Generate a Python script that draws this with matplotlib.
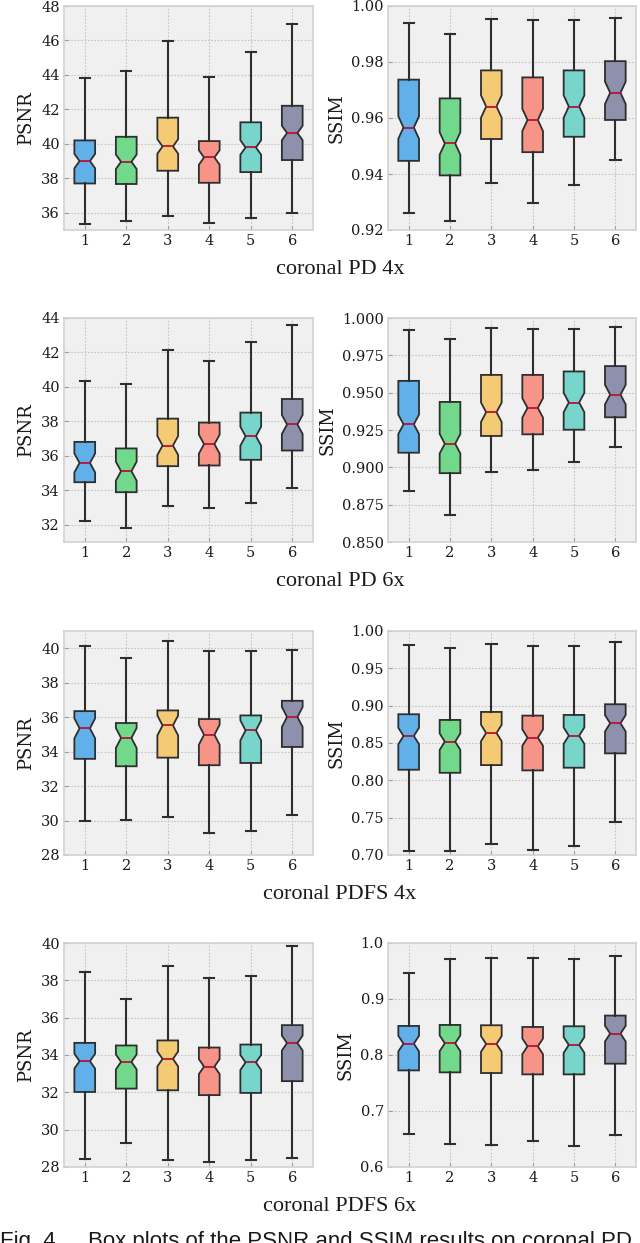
import matplotlib
matplotlib.use("Agg")
import matplotlib.pyplot as plt
from matplotlib.ticker import FormatStrFormatter

# ---------------- data ----------------
methods = ["1", "2", "3", "4", "5", "6"]
colors = ["#62b0ea", "#72d98c", "#f5ca75", "#f79488", "#78d5cc", "#8e91ac"]

# coronal PD 4x  - PSNR
pd4_psnr_lo  = [35.32, 35.52, 35.83, 35.40, 35.69, 35.96]
pd4_psnr_q1  = [37.70, 37.67, 38.44, 37.74, 38.36, 39.06]
pd4_psnr_med = [39.00, 38.96, 39.85, 39.21, 39.79, 40.63]
pd4_psnr_q3  = [40.20, 40.41, 41.52, 40.16, 41.25, 42.21]
pd4_psnr_hi  = [43.84, 44.25, 45.99, 43.86, 45.35, 46.94]
pd4_psnr_notch = 0.42
# coronal PD 4x  - SSIM
pd4_ssim_lo  = [0.9261, 0.9231, 0.9367, 0.9298, 0.9359, 0.9449]
pd4_ssim_q1  = [0.9447, 0.9395, 0.9525, 0.9478, 0.9533, 0.9593]
pd4_ssim_med = [0.9566, 0.9509, 0.9641, 0.9593, 0.9641, 0.9690]
pd4_ssim_q3  = [0.9737, 0.9670, 0.9770, 0.9745, 0.9770, 0.9803]
pd4_ssim_hi  = [0.9940, 0.9901, 0.9952, 0.9950, 0.9949, 0.9957]
pd4_ssim_notch = 0.0040

# coronal PD 6x  - PSNR
pd6_psnr_lo  = [32.21, 31.83, 33.08, 32.97, 33.24, 34.11]
pd6_psnr_q1  = [34.47, 33.89, 35.40, 35.44, 35.77, 36.31]
pd6_psnr_med = [35.59, 35.11, 36.60, 36.68, 37.14, 37.82]
pd6_psnr_q3  = [36.81, 36.43, 38.16, 37.93, 38.51, 39.30]
pd6_psnr_hi  = [40.33, 40.17, 42.16, 41.49, 42.63, 43.59]
pd6_psnr_notch = 0.55
# coronal PD 6x  - SSIM
pd6_ssim_lo  = [0.8843, 0.8679, 0.8970, 0.8981, 0.9033, 0.9137]
pd6_ssim_q1  = [0.9098, 0.8961, 0.9210, 0.9221, 0.9252, 0.9335]
pd6_ssim_med = [0.9288, 0.9158, 0.9369, 0.9398, 0.9434, 0.9487]
pd6_ssim_q3  = [0.9579, 0.9438, 0.9619, 0.9619, 0.9642, 0.9678]
pd6_ssim_hi  = [0.9919, 0.9857, 0.9931, 0.9926, 0.9924, 0.9940]
pd6_ssim_notch = 0.0065

# coronal PDFS 4x - PSNR
pdfs4_psnr_lo  = [29.97, 30.03, 30.20, 29.25, 29.37, 30.31]
pdfs4_psnr_q1  = [33.58, 33.15, 33.65, 33.21, 33.34, 34.27]
pdfs4_psnr_med = [35.35, 34.79, 35.52, 34.98, 35.23, 36.01]
pdfs4_psnr_q3  = [36.35, 35.66, 36.39, 35.89, 36.10, 36.95]
pdfs4_psnr_hi  = [40.14, 39.46, 40.42, 39.86, 39.85, 39.92]
pdfs4_psnr_notch = 0.58
# coronal PDFS 4x - SSIM
pdfs4_ssim_lo  = [0.7058, 0.7054, 0.7148, 0.7067, 0.7116, 0.7448]
pdfs4_ssim_q1  = [0.8142, 0.8101, 0.8204, 0.8133, 0.8169, 0.8361]
pdfs4_ssim_med = [0.8594, 0.8518, 0.8634, 0.8572, 0.8598, 0.8764]
pdfs4_ssim_q3  = [0.8885, 0.8809, 0.8916, 0.8867, 0.8876, 0.9019]
pdfs4_ssim_hi  = [0.9816, 0.9767, 0.9825, 0.9794, 0.9799, 0.9852]
pdfs4_ssim_notch = 0.011

# coronal PDFS 6x - PSNR
pdfs6_psnr_lo  = [28.41, 29.29, 28.36, 28.29, 28.38, 28.50]
pdfs6_psnr_q1  = [32.02, 32.20, 32.11, 31.85, 31.97, 32.60]
pdfs6_psnr_med = [33.67, 33.63, 33.79, 33.38, 33.60, 34.64]
pdfs6_psnr_q3  = [34.65, 34.51, 34.78, 34.40, 34.56, 35.60]
pdfs6_psnr_hi  = [38.46, 37.01, 38.77, 38.12, 38.23, 39.84]
pdfs6_psnr_notch = 0.40
# coronal PDFS 6x - SSIM
pdfs6_ssim_lo  = [0.6591, 0.6412, 0.6400, 0.6466, 0.6370, 0.6567]
pdfs6_ssim_q1  = [0.7725, 0.7690, 0.7678, 0.7654, 0.7654, 0.7845]
pdfs6_ssim_med = [0.8203, 0.8209, 0.8197, 0.8155, 0.8179, 0.8382]
pdfs6_ssim_q3  = [0.8519, 0.8537, 0.8531, 0.8501, 0.8513, 0.8704]
pdfs6_ssim_hi  = [0.9457, 0.9713, 0.9731, 0.9725, 0.9713, 0.9767]
pdfs6_ssim_notch = 0.014

row_titles = ["coronal PD 4x", "coronal PD 6x", "coronal PDFS 4x", "coronal PDFS 6x"]
caption = "Box plots of the PSNR and SSIM results on coronal PD"

# ---------------- figure ----------------
W, H = 640, 1243
fig = plt.figure(figsize=(W / 100, H / 100), dpi=100)
fig.patch.set_facecolor("white")

row_tops = [6, 318, 631, 943]
ax_h = 224
left_x = (64, 313)
right_x = (388, 636)

panels = [
    (0, 0, (pd4_psnr_lo, pd4_psnr_q1, pd4_psnr_med, pd4_psnr_q3, pd4_psnr_hi), pd4_psnr_notch,
     "PSNR", (35, 48), [36, 38, 40, 42, 44, 46, 48], "%d"),
    (0, 1, (pd4_ssim_lo, pd4_ssim_q1, pd4_ssim_med, pd4_ssim_q3, pd4_ssim_hi), pd4_ssim_notch,
     "SSIM", (0.92, 1.00), [0.92, 0.94, 0.96, 0.98, 1.00], "%.2f"),
    (1, 0, (pd6_psnr_lo, pd6_psnr_q1, pd6_psnr_med, pd6_psnr_q3, pd6_psnr_hi), pd6_psnr_notch,
     "PSNR", (31, 44), [32, 34, 36, 38, 40, 42, 44], "%d"),
    (1, 1, (pd6_ssim_lo, pd6_ssim_q1, pd6_ssim_med, pd6_ssim_q3, pd6_ssim_hi), pd6_ssim_notch,
     "SSIM", (0.85, 1.00), [0.850, 0.875, 0.900, 0.925, 0.950, 0.975, 1.000], "%.3f"),
    (2, 0, (pdfs4_psnr_lo, pdfs4_psnr_q1, pdfs4_psnr_med, pdfs4_psnr_q3, pdfs4_psnr_hi), pdfs4_psnr_notch,
     "PSNR", (28, 41), [28, 30, 32, 34, 36, 38, 40], "%d"),
    (2, 1, (pdfs4_ssim_lo, pdfs4_ssim_q1, pdfs4_ssim_med, pdfs4_ssim_q3, pdfs4_ssim_hi), pdfs4_ssim_notch,
     "SSIM", (0.70, 1.00), [0.70, 0.75, 0.80, 0.85, 0.90, 0.95, 1.00], "%.2f"),
    (3, 0, (pdfs6_psnr_lo, pdfs6_psnr_q1, pdfs6_psnr_med, pdfs6_psnr_q3, pdfs6_psnr_hi), pdfs6_psnr_notch,
     "PSNR", (28, 40), [28, 30, 32, 34, 36, 38, 40], "%d"),
    (3, 1, (pdfs6_ssim_lo, pdfs6_ssim_q1, pdfs6_ssim_med, pdfs6_ssim_q3, pdfs6_ssim_hi), pdfs6_ssim_notch,
     "SSIM", (0.6, 1.0), [0.6, 0.7, 0.8, 0.9, 1.0], "%.1f"),
]

serif = ["DejaVu Serif"]
edge = "#2e2e2e"

for row, col, (lo, q1, med, q3, hi), notch, ylabel, ylim, ticks, fmt in panels:
    x0, x1 = left_x if col == 0 else right_x
    top = row_tops[row]
    ax = fig.add_axes([x0 / W, 1 - (top + ax_h) / H, (x1 - x0) / W, ax_h / H])
    ax.set_facecolor("#f0f0f0")
    stats = []
    for i in range(len(methods)):
        stats.append(dict(label=methods[i], whislo=lo[i], q1=q1[i], med=med[i], q3=q3[i],
                          whishi=hi[i], cilo=med[i] - notch, cihi=med[i] + notch, fliers=[]))
    bp = ax.bxp(stats, shownotches=True, patch_artist=True, showfliers=False,
                boxprops=dict(edgecolor=edge, linewidth=1.3),
                whiskerprops=dict(color=edge, linewidth=1.5),
                capprops=dict(color=edge, linewidth=1.5),
                medianprops=dict(color="#b8123a", linewidth=1.3))
    for patch, c in zip(bp["boxes"], colors):
        patch.set_facecolor(c)
    ax.set_ylim(*ylim)
    ax.set_yticks(ticks)
    ax.yaxis.set_major_formatter(FormatStrFormatter(fmt))
    ax.set_xlim(0.5, 6.5)
    ax.grid(True, color="#c4c4c4", linestyle=(0, (1.5, 1.5)), linewidth=0.8)
    ax.set_axisbelow(True)
    for s in ax.spines.values():
        s.set_color("#d2d2d2")
        s.set_linewidth(1.2)
    ax.tick_params(axis="both", direction="in", colors="#9a9a9a", length=3, width=0.8,
                   labelcolor="#1a1a1a", labelsize=10.5, pad=3)
    for lab in ax.get_xticklabels() + ax.get_yticklabels():
        lab.set_family(serif)
    ax.set_ylabel(ylabel, family=serif, fontsize=13, color="#1a1a1a", labelpad=4)

for r, title in enumerate(row_titles):
    ybase = row_tops[r] + ax_h + 44
    fig.text(340 / W, 1 - ybase / H, title, family=["Liberation Serif"], fontsize=16,
             ha="center", va="baseline", color="#1a1a1a")

fig.text(0 / W, 1 - 1231 / H, "Fig. 4.", family=["Liberation Sans"], fontsize=16,
         ha="left", va="top", color="#1a1a1a")
fig.text(88 / W, 1 - 1231 / H, caption, family=["Liberation Sans"], fontsize=16,
         ha="left", va="top", color="#1a1a1a")

fig.savefig("out.png", dpi=100, facecolor="white")
